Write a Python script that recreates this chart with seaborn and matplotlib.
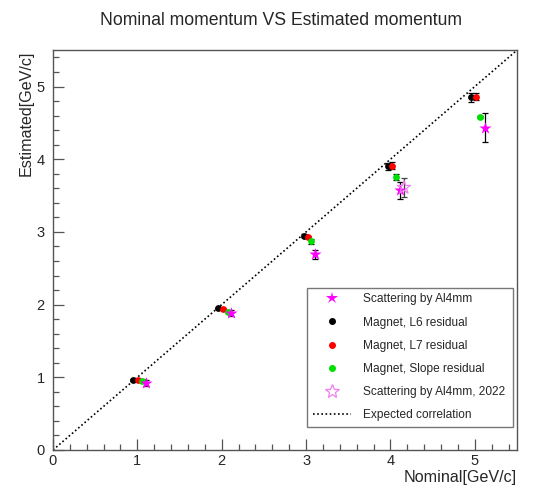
import numpy as np
import matplotlib
matplotlib.use("Agg")
import matplotlib.pyplot as plt
import seaborn as sns
from matplotlib.lines import Line2D
from matplotlib.ticker import MultipleLocator

# values
scat_x = [1.10, 2.11, 3.11, 4.11, 5.12]
scat_y = [0.92, 1.88, 2.69, 3.57, 4.43]
scat_err = [0.04, 0.04, 0.06, 0.12, 0.20]

l6_x = [0.95, 1.96, 2.97, 3.97, 4.96]
l6_y = [0.96, 1.95, 2.95, 3.90, 4.85]
l6_err = [0.01, 0.01, 0.02, 0.05, 0.06]

l7_x = [1.01, 2.02, 3.02, 4.02, 5.01]
l7_y = [0.96, 1.94, 2.93, 3.91, 4.86]
l7_err = [0.01, 0.01, 0.02, 0.05, 0.05]

slope_x = [1.06, 2.07, 3.06, 4.06, 5.06]
slope_y = [0.95, 1.90, 2.87, 3.76, 4.58]
slope_err = [0.02, 0.02, 0.03, 0.04, 0.02]

scat22_x = [4.16]
scat22_y = [3.61]
scat22_err = [0.13]

line_x = [0, 5.5]
line_y = [0, 5.5]

sns.set_style("ticks")
plt.rcParams['font.family'] = ['Liberation Sans', 'DejaVu Sans']

fig = plt.figure(figsize=(5.33, 4.87), dpi=100)
ax = fig.add_axes([0.0994, 0.076, 0.8706, 0.821])

sns.lineplot(x=line_x, y=line_y, ax=ax, color="black", linestyle=(0, (1, 1.5)), linewidth=1.2, zorder=1)

def draw(x, y, err, color, marker, size, fill=True, ecolor="black"):
    ax.errorbar(x, y, yerr=err, fmt="none", ecolor=ecolor, elinewidth=0.9, capsize=2, capthick=0.9, zorder=2)
    if fill:
        sns.scatterplot(x=x, y=y, ax=ax, color=color, marker=marker, s=size, linewidth=0, zorder=3)
    else:
        sns.scatterplot(x=x, y=y, ax=ax, marker=marker, s=size, facecolors="none", edgecolors=color, linewidth=0.9, zorder=3)

draw(l6_x, l6_y, l6_err, "black", "o", 24)
draw(l7_x, l7_y, l7_err, "#ff0000", "o", 24)
draw(slope_x, slope_y, slope_err, "#00e000", "o", 24)
draw(scat_x, scat_y, scat_err, "#ff00ff", "*", 85)
draw(scat22_x, scat22_y, scat22_err, "#f080f0", "*", 100, fill=False, ecolor="#444444")

ax.set_xlim(0, 5.5)
ax.set_ylim(0, 5.5)
ax.xaxis.set_major_locator(MultipleLocator(1))
ax.xaxis.set_minor_locator(MultipleLocator(0.2))
ax.yaxis.set_major_locator(MultipleLocator(1))
ax.yaxis.set_minor_locator(MultipleLocator(0.2))
ax.tick_params(which="both", direction="in", color="#555555", labelsize=10.5)
ax.tick_params(which="major", length=8, width=0.9)
ax.tick_params(axis="x", which="major", pad=3)
ax.tick_params(axis="y", which="major", pad=6)
ax.tick_params(which="minor", length=4, width=0.9)
for sp in ax.spines.values():
    sp.set_color("#555555")
    sp.set_linewidth(1.0)

ax.set_xlabel("Nominal[GeV/c]", fontsize=11.6, loc="right", labelpad=1)
ax.set_ylabel("Estimated[GeV/c]", fontsize=11.6, loc="top", labelpad=2)
fig.suptitle("Nominal momentum VS Estimated momentum", fontsize=12.7, x=0.527, y=0.975)

handles = [
    Line2D([], [], linestyle="none", marker="*", color="#ff00ff", markersize=9, markeredgewidth=0),
    Line2D([], [], linestyle="none", marker="o", color="black", markersize=4),
    Line2D([], [], linestyle="none", marker="o", color="#ff0000", markersize=4),
    Line2D([], [], linestyle="none", marker="o", color="#00e000", markersize=4),
    Line2D([], [], linestyle="none", marker="*", markerfacecolor="none", markeredgecolor="#f080f0", markersize=10, markeredgewidth=0.9),
    Line2D([], [], color="black", linestyle=(0, (1, 1.5)), linewidth=1.2),
]
labels = ["Scattering by Al4mm", "Magnet, L6 residual", "Magnet, L7 residual",
          "Magnet, Slope residual", "Scattering by Al4mm, 2022", "Expected correlation"]
leg = fig.legend(handles, labels, loc="lower left", bbox_to_anchor=(307 / 533, 60 / 487, 206 / 533, 138 / 487),
                 mode="expand", fontsize=8.6, frameon=True, fancybox=False, edgecolor="#555555",
                 labelspacing=0.93, handlelength=3.2, handletextpad=1.0, borderaxespad=0, borderpad=0.5)
leg.get_frame().set_linewidth(1.0)

fig.savefig("out.png", dpi=100)
